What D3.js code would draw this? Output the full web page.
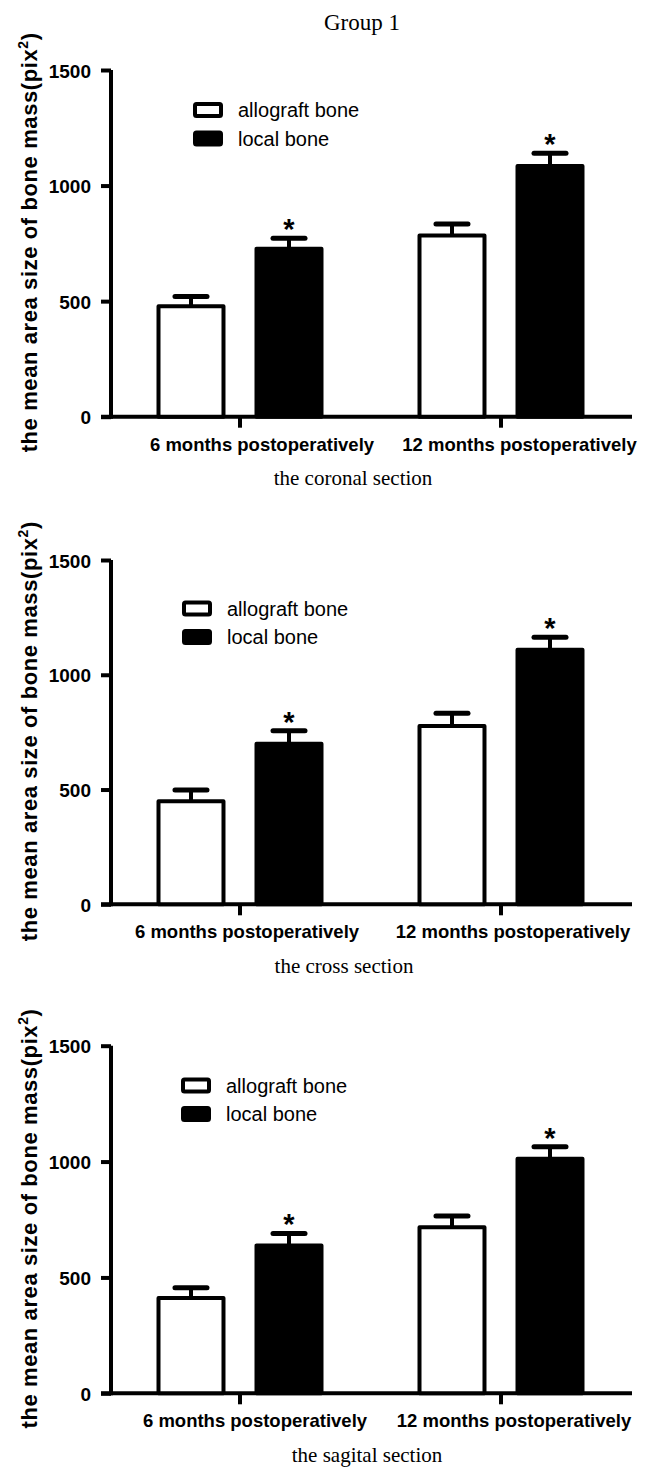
<!DOCTYPE html>
<html>
<head>
<meta charset="utf-8">
<script src="https://cdn.jsdelivr.net/npm/d3@7"></script>
<style>
  html, body { margin: 0; padding: 0; background: #fff; }
  svg { display: block; }
</style>
</head>
<body>
<div id="chart"></div>
<script>
// ---------- data ----------
const categories = ["6 months postoperatively", "12 months postoperatively"];
const series = ["allograft bone", "local bone"];
const sections = ["the coronal section", "the cross section", "the sagital section"];
const chartTitle = "Group 1";
const yLabel = "the mean area size of bone mass(pix";
const yTicks = [0, 500, 1000, 1500];

const coronalAllograft = [478, 784];
const coronalAllograftErr = [42, 50];
const coronalLocal = [727, 1085];
const coronalLocalErr = [45, 55];

const crossAllograft = [449, 777];
const crossAllograftErr = [49, 55];
const crossLocal = [699, 1109];
const crossLocalErr = [57, 54];

const sagitalAllograft = [411, 717];
const sagitalAllograftErr = [45, 48];
const sagitalLocal = [638, 1012];
const sagitalLocalErr = [52, 52];

// significance markers (local bone vs allograft)
const localSignificant = [true, true];

// ---------- layout ----------
const W = 648, H = 1467;
const SANS = "'Liberation Sans', Arial, Helvetica, sans-serif";
const SERIF = "'Liberation Serif', 'Times New Roman', serif";

const panels = [
  { title: sections[0], values: [coronalAllograft, coronalLocal], errs: [coronalAllograftErr, coronalLocalErr],
    y0: 416.7, y1: 70, legendX: 193, legendY: 110, labelDx: [22, 18.5], titleX: 353 },
  { title: sections[1], values: [crossAllograft, crossLocal], errs: [crossAllograftErr, crossLocalErr],
    y0: 904.3, y1: 560, legendX: 182, legendY: 608.5, labelDx: [7, 12], titleX: 344 },
  { title: sections[2], values: [sagitalAllograft, sagitalLocal], errs: [sagitalAllograftErr, sagitalLocalErr],
    y0: 1393.3, y1: 1045.7, legendX: 181, legendY: 1085.5, labelDx: [15, 13], titleX: 367 }
];

const svg = d3.select("#chart").append("svg")
  .attr("width", W).attr("height", H)
  .attr("viewBox", `0 0 ${W} ${H}`);

svg.append("rect").attr("width", W).attr("height", H).attr("fill", "#fff");

svg.append("text")
  .attr("x", 362).attr("y", 30)
  .attr("text-anchor", "middle")
  .attr("font-family", SERIF).attr("font-size", 23)
  .attr("fill", "#000")
  .text(chartTitle);

const AXIS_X = 111;
const x = d3.scaleBand().domain(categories).range([109.5, 631.5]);
const x1 = d3.scaleBand().domain(series).range([47, 214]).paddingInner(0.296);
const fills = { "allograft bone": "#fff", "local bone": "#000" };

panels.forEach(p => {
  const g = svg.append("g");
  const y = d3.scaleLinear().domain([0, 1500]).range([p.y0, p.y1]);

  // y axis
  const ya = g.append("g").attr("transform", `translate(${AXIS_X},0)`)
    .call(d3.axisLeft(y).tickValues(yTicks).tickFormat(d3.format("d"))
      .tickSize(10).tickSizeOuter(0).tickPadding(10));
  ya.select(".domain").attr("stroke", "#000").attr("stroke-width", 4)
    .attr("d", `M0,${y(0) + 2}V${y(1500)}`);
  ya.selectAll(".tick line").attr("stroke", "#000").attr("stroke-width", 4);
  ya.selectAll(".tick text")
    .attr("font-family", SANS).attr("font-size", 19).attr("font-weight", "bold")
    .attr("fill", "#000").attr("dy", null).attr("y", 7);

  // x axis
  const xa = g.append("g").attr("transform", `translate(0,${y(0)})`)
    .call(d3.axisBottom(x).tickSize(11).tickSizeOuter(0).tickPadding(0));
  xa.select(".domain").remove();
  xa.selectAll(".tick line").attr("stroke", "#000").attr("stroke-width", 4);
  xa.selectAll(".tick text")
    .attr("font-family", SANS).attr("font-size", 18.5).attr("font-weight", "bold")
    .attr("fill", "#000").attr("dy", null).attr("y", 34)
    .attr("x", (d, i) => p.labelDx[i]);
  xa.append("line").attr("x1", 101).attr("x2", 632).attr("y1", 0).attr("y2", 0)
    .attr("stroke", "#000").attr("stroke-width", 4);

  // bars
  const rows = [];
  categories.forEach((c, ci) => {
    series.forEach((s, si) => {
      rows.push({ c, s, ci, si, v: p.values[si][ci], e: p.errs[si][ci] });
    });
  });

  const barG = g.append("g");
  // error bars
  rows.forEach(r => {
    const cx = x(r.c) + x1(r.s) + x1.bandwidth() / 2;
    barG.append("line")
      .attr("x1", cx).attr("x2", cx).attr("y1", y(r.v)).attr("y2", y(r.v + r.e))
      .attr("stroke", "#000").attr("stroke-width", 4);
    barG.append("line")
      .attr("x1", cx - 16).attr("x2", cx + 16).attr("y1", y(r.v + r.e)).attr("y2", y(r.v + r.e))
      .attr("stroke", "#000").attr("stroke-width", 5).attr("stroke-linecap", "round");
    if (r.si === 1 && localSignificant[r.ci]) {
      barG.append("text")
        .attr("x", cx).attr("y", y(r.v + r.e) + 1)
        .attr("text-anchor", "middle")
        .attr("font-family", SANS).attr("font-size", 29).attr("font-weight", "bold")
        .attr("fill", "#000").text("*");
    }
  });
  barG.selectAll("rect.bar").data(rows).join("rect")
    .attr("class", "bar")
    .attr("x", d => x(d.c) + x1(d.s) + 2)
    .attr("width", x1.bandwidth() - 4)
    .attr("y", d => y(d.v))
    .attr("height", d => y(0) - y(d.v))
    .attr("fill", d => fills[d.s])
    .attr("stroke", "#000").attr("stroke-width", 4).attr("stroke-linejoin", "round");

  // legend
  const lg = g.append("g");
  series.forEach((s, i) => {
    const cy = p.legendY + i * 28.5;
    lg.append("rect")
      .attr("x", p.legendX + 2).attr("y", cy - 6).attr("width", 26).attr("height", 12)
      .attr("rx", 1.5)
      .attr("fill", fills[s]).attr("stroke", "#000").attr("stroke-width", 4);
    lg.append("text")
      .attr("x", p.legendX + 45).attr("y", cy + 7)
      .attr("font-family", SANS).attr("font-size", 20).attr("fill", "#000")
      .text(s);
  });

  // y label
  const cyLab = (p.y0 + p.y1) / 2 - 1;
  const yl = g.append("text")
    .attr("transform", `translate(37,${cyLab}) rotate(-90)`)
    .attr("text-anchor", "middle")
    .attr("font-family", SANS).attr("font-size", 22).attr("font-weight", "bold")
    .attr("letter-spacing", 0.6)
    .attr("fill", "#000");
  yl.append("tspan").text(yLabel);
  yl.append("tspan").attr("font-size", 14).attr("dy", -9).text("2");
  yl.append("tspan").attr("dy", 9).text(")");

  // section title
  g.append("text")
    .attr("x", p.titleX).attr("y", p.y0 + 68.5)
    .attr("text-anchor", "middle")
    .attr("font-family", SERIF).attr("font-size", 21).attr("fill", "#000")
    .text(p.title);
});
</script>
</body>
</html>
